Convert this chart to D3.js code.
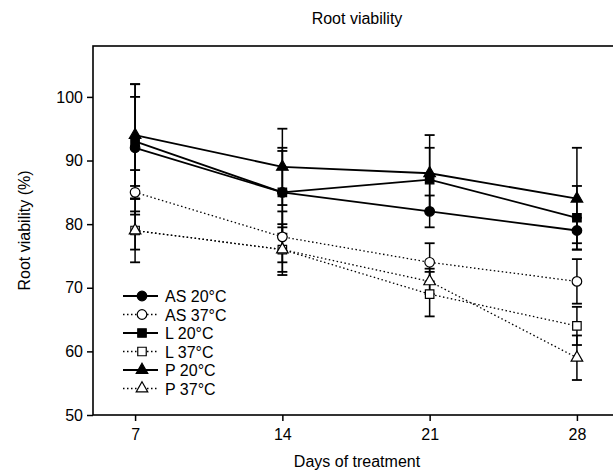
<!DOCTYPE html>
<html>
<head>
<meta charset="utf-8">
<script src="https://d3js.org/d3.v7.min.js"></script>
<style>
body { margin: 0; background: #fff; overflow: hidden; }
text { font-family: "Liberation Sans", Arial, sans-serif; fill: #000; }
</style>
</head>
<body>
<svg id="vis" width="613" height="474"></svg>
<script>
// days on the x axis
var days = [7, 14, 21, 28];

// series names, their marker and whether line is dotted
var seriesNames = ["AS 20°C", "AS 37°C", "L 20°C", "L 37°C", "P 20°C", "P 37°C"];
var seriesSymbols = ["circle", "circle", "square", "square", "triangle", "triangle"];
var seriesOpen = [false, true, false, true, false, true];

// mean root viability (%)
var as20 = [92, 85, 82, 79];
var as37 = [85, 78, 74, 71];
var l20  = [93, 85, 87, 81];
var l37  = [79, 76, 69, 64];
var p20  = [94, 89, 88, 84];
var p37  = [79, 76, 71, 59];

// error bar half widths
var as20Err = [8, 6.5, 2.5, 2];
var as37Err = [3.5, 4, 3, 3.5];
var l20Err  = [9, 7, 5, 5];
var l37Err  = [5, 4, 3.5, 3];
var p20Err  = [8, 6, 6, 8];
var p37Err  = [3, 3.5, 2, 3.5];

var yTicks = [50, 60, 70, 80, 90, 100];

var values = [as20, as37, l20, l37, p20, p37];
var errors = [as20Err, as37Err, l20Err, l37Err, p20Err, p37Err];

var svg = d3.select("#vis");

var x = d3.scaleLinear().domain([5, 30]).range([93, 619]);
var y = d3.scaleLinear().domain([50, 108]).range([415, 46]);

// title
svg.append("text")
  .attr("x", 357).attr("y", 24)
  .attr("text-anchor", "middle")
  .attr("font-size", "16px")
  .text("Root viability");

// frame, right side runs off the page
svg.append("rect")
  .attr("x", x(5)).attr("y", y(108))
  .attr("width", x(30) - x(5)).attr("height", y(50) - y(108))
  .attr("fill", "none").attr("stroke", "#000").attr("stroke-width", 1.6);

// y axis
var yAxis = d3.axisLeft(y).tickValues(yTicks).tickSize(6).tickPadding(4);
var gy = svg.append("g").attr("transform", "translate(" + x(5) + ",0)").call(yAxis);
gy.select(".domain").remove();
gy.selectAll("line").attr("stroke-width", 1.5);
gy.selectAll("text").attr("font-size", "16px").attr("font-family", "Liberation Sans, Arial, sans-serif");

// x axis
var xAxis = d3.axisBottom(x).tickValues(days).tickSize(6).tickPadding(8);
var gx = svg.append("g").attr("transform", "translate(0," + y(50) + ")").call(xAxis);
gx.select(".domain").remove();
gx.selectAll("line").attr("stroke-width", 1.5);
gx.selectAll("text").attr("font-size", "16px").attr("font-family", "Liberation Sans, Arial, sans-serif");

// axis titles
svg.append("text")
  .attr("x", 357).attr("y", 467)
  .attr("text-anchor", "middle")
  .attr("font-size", "16px")
  .text("Days of treatment");

svg.append("text")
  .attr("transform", "translate(30," + y(79) + ") rotate(-90)")
  .attr("text-anchor", "middle")
  .attr("font-size", "16px")
  .text("Root viability (%)");

var line = d3.line()
  .x(function(d, i) { return x(days[i]); })
  .y(function(d) { return y(d); });

function symbolFor(i) {
  if (seriesSymbols[i] == "circle") return d3.symbol().type(d3.symbolCircle).size(72)();
  if (seriesSymbols[i] == "square") return d3.symbol().type(d3.symbolSquare).size(72)();
  return d3.symbol().type(d3.symbolTriangle).size(58)();
}

var plot = svg.append("g");

// error bars
values.forEach(function(vals, s) {
  vals.forEach(function(v, i) {
    var e = errors[s][i];
    var cx = x(days[i]);
    plot.append("line")
      .attr("x1", cx).attr("x2", cx)
      .attr("y1", y(v - e)).attr("y2", y(v + e))
      .attr("stroke", "#000").attr("stroke-width", 1.5);
    [v - e, v + e].forEach(function(c) {
      plot.append("line")
        .attr("x1", cx - 5).attr("x2", cx + 5)
        .attr("y1", y(c)).attr("y2", y(c))
        .attr("stroke", "#000").attr("stroke-width", 1.8);
    });
  });
});

// lines
values.forEach(function(vals, s) {
  plot.append("path")
    .datum(vals)
    .attr("d", line)
    .attr("fill", "none")
    .attr("stroke", "#000")
    .attr("stroke-width", seriesOpen[s] ? 1.3 : 1.8)
    .attr("stroke-dasharray", seriesOpen[s] ? "1.5,2.5" : null);
});

// markers
values.forEach(function(vals, s) {
  plot.selectAll(".m" + s)
    .data(vals)
    .enter().append("path")
    .attr("d", symbolFor(s))
    .attr("transform", function(d, i) { return "translate(" + x(days[i]) + "," + y(d) + ")"; })
    .attr("fill", seriesOpen[s] ? "#fff" : "#000")
    .attr("stroke", "#000")
    .attr("stroke-width", 1.2);
});

// legend
var legend = svg.append("g");
seriesNames.forEach(function(name, s) {
  var ly = 296 + s * 18.5;
  legend.append("line")
    .attr("x1", 123).attr("x2", 158)
    .attr("y1", ly).attr("y2", ly)
    .attr("stroke", "#000")
    .attr("stroke-width", seriesOpen[s] ? 1.3 : 1.8)
    .attr("stroke-dasharray", seriesOpen[s] ? "1.5,2.5" : null);
  legend.append("path")
    .attr("d", symbolFor(s))
    .attr("transform", "translate(142," + ly + ")")
    .attr("fill", seriesOpen[s] ? "#fff" : "#000")
    .attr("stroke", "#000")
    .attr("stroke-width", 1.2);
  legend.append("text")
    .attr("x", 165).attr("y", ly + 6)
    .attr("font-size", "16px")
    .text(name);
});
</script>
</body>
</html>
